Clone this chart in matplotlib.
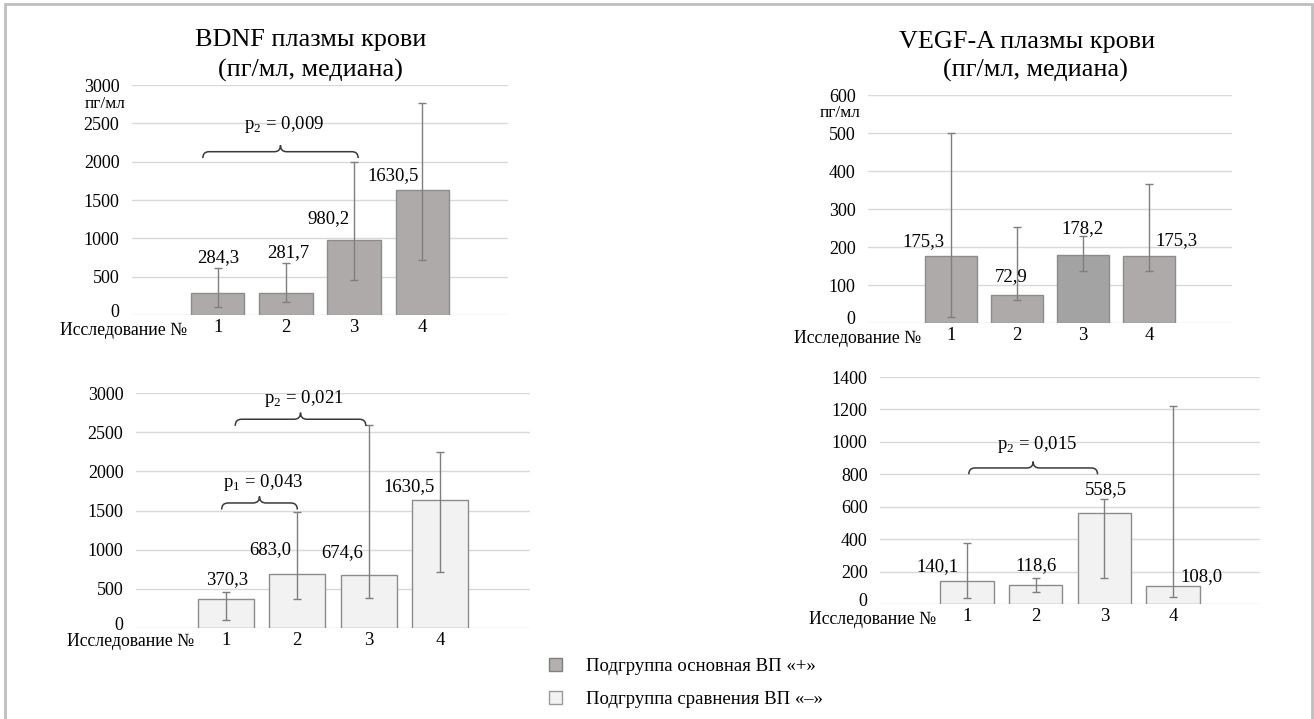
import numpy as np
import matplotlib
matplotlib.use("Agg")
import matplotlib.pyplot as plt
import matplotlib.transforms as mtransforms
from matplotlib.path import Path
from matplotlib.patches import PathPatch, Patch, Rectangle

plt.rcParams["font.family"] = ["Liberation Serif", "DejaVu Serif"]
plt.rcParams["mathtext.fontset"] = "custom"
plt.rcParams["mathtext.rm"] = "Liberation Serif"

# ── data ────────────────────────────────────────────────────────────────────
studies = ["1", "2", "3", "4"]

# BDNF, subgroup VP "+"
bdnf_pos = [284.3, 281.7, 980.2, 1630.5]
bdnf_pos_lo = [105, 172, 458, 718]
bdnf_pos_hi = [618, 676, 2000, 2760]

# VEGF-A, subgroup VP "+"
vegf_pos = [175.3, 72.9, 178.2, 175.3]
vegf_pos_lo = [16, 60, 138, 136]
vegf_pos_hi = [500, 252, 228, 365]

# BDNF, subgroup VP "-"
bdnf_neg = [370.3, 683.0, 674.6, 1630.5]
bdnf_neg_lo = [102, 366, 387, 711]
bdnf_neg_hi = [464, 1485, 2595, 2250]

# VEGF-A, subgroup VP "-"
vegf_neg = [140.1, 118.6, 558.5, 108.0]
vegf_neg_lo = [35, 76, 158, 45]
vegf_neg_hi = [374, 162, 646, 1223]

# significance brackets: (first study, last study, p label)
bdnf_pos_sig = [(1, 3, r"p$_\mathregular{2}$ = 0,009")]
bdnf_neg_sig = [(1, 2, r"p$_\mathregular{1}$ = 0,043"), (1, 3, r"p$_\mathregular{2}$ = 0,021")]
vegf_neg_sig = [(1, 3, r"p$_\mathregular{2}$ = 0,015")]

# ── styles ──────────────────────────────────────────────────────────────────
W, H = 1314, 719
DARK = "#aeaaaa"
DARK3 = "#a3a3a3"
LIGHT = "#f2f2f2"
GRID = "#d9d9d9"
ERR = "#7f7f7f"


def px_axes(fig, left, top, right, bottom):
    return fig.add_axes([left / W, 1 - bottom / H, (right - left) / W, (bottom - top) / H])


def brace(ax, x1, x2, y, rise, r=0.09):
    xm = (x1 + x2) / 2
    verts = [(x1, y - rise), (x1, y), (x1 + r, y),
             (xm - r, y), (xm, y), (xm, y + rise),
             (xm, y), (xm + r, y),
             (x2 - r, y), (x2, y), (x2, y - rise)]
    codes = [Path.MOVETO, Path.CURVE3, Path.CURVE3,
             Path.LINETO, Path.CURVE3, Path.CURVE3,
             Path.CURVE3, Path.CURVE3,
             Path.LINETO, Path.CURVE3, Path.CURVE3]
    ax.add_patch(PathPatch(Path(verts, codes), fill=False, ec="#3a3a3a", lw=1.1,
                           clip_on=False, zorder=5))


def panel(ax, vals, lo, hi, ymax, ystep, colors, label_off, sigs=(), sig_pos=(),
          label_pad=0.05):
    x = np.arange(1, len(vals) + 1)
    vals = np.array(vals)
    yerr = [vals - np.array(lo), np.array(hi) - vals]
    ax.bar(x, vals, width=0.78, color=colors, edgecolor="#8c8c8c", linewidth=1.0, zorder=2)
    ax.errorbar(x, vals, yerr=yerr, fmt="none", ecolor=ERR, elinewidth=1.0,
                capsize=3.2, capthick=1.0, zorder=3)
    for xi, v, (dx, dy) in zip(x, vals, label_off):
        ax.annotate(f"{v:.1f}".replace(".", ","), (xi, v), xytext=(dx, dy),
                    textcoords="offset pixels", ha="center", va="center",
                    fontsize=13.5, zorder=6)
    ax.set_xlim(-0.26, 5.26)
    ax.set_ylim(0, ymax)
    ax.set_yticks(np.arange(0, ymax + 1, ystep))
    ax.set_xticks(x)
    ax.set_xticklabels(studies)
    ax.tick_params(axis="both", length=0, labelsize=13)
    ax.tick_params(axis="y", pad=9)
    ax.tick_params(axis="x", pad=3, labelsize=13.5)
    ax.grid(axis="y", color=GRID, lw=1.0, zorder=0)
    for s in ax.spines.values():
        s.set_visible(False)
    # lift the "0" label a little so it sits clear of the category caption
    zero = ax.get_yticklabels()[0]
    zero.set_transform(zero.get_transform() +
                       mtransforms.ScaledTranslation(0, 5 / 100, ax.figure.dpi_scale_trans))
    ax.text(0.55, -label_pad, "Исследование №", transform=ax.get_xaxis_transform(),
            ha="right", va="center", fontsize=12.8)
    rise = ymax * 0.028
    for (a, b, txt), (xa, xb, yb, yt) in zip(sigs, sig_pos):
        brace(ax, xa, xb, yb, rise)
        ax.text((xa + xb) / 2 + 0.05, yt, txt, ha="center", va="center", fontsize=13.5)


fig = plt.figure(figsize=(W / 100, H / 100), dpi=100)

# outer frame
fig.add_artist(Rectangle((5 / W, -0.01), (1307 / W), 1.0 - 4 / H + 0.01,
                         transform=fig.transFigure, fill=False, ec="#bfbfbf", lw=2))

ax_tl = px_axes(fig, 132, 85, 508, 315)
ax_tr = px_axes(fig, 868, 95, 1232, 323)
ax_bl = px_axes(fig, 136, 393, 530, 628)
ax_br = px_axes(fig, 880, 377, 1260, 604)

panel(ax_tl, bdnf_pos, bdnf_pos_lo, bdnf_pos_hi, 3000, 500, [DARK] * 4,
      [(0, 36), (2, 41), (-26, 21), (-29, 14)],
      bdnf_pos_sig, [(0.78, 3.06, 2130, 2480)], label_pad=0.068)
panel(ax_tr, vegf_pos, vegf_pos_lo, vegf_pos_hi, 600, 100, [DARK, DARK, DARK3, DARK],
      [(-28, 15), (-6, 19), (-1, 27), (28, 16)], label_pad=0.066)
panel(ax_bl, bdnf_neg, bdnf_neg_lo, bdnf_neg_hi, 3000, 500, [LIGHT] * 4,
      [(1, 19), (-27, 25), (-27, 23), (-31, 14)],
      bdnf_neg_sig, [(0.94, 2.0, 1596, 1852), (1.13, 2.96, 2665, 2925)], label_pad=0.058)
panel(ax_br, vegf_neg, vegf_neg_lo, vegf_neg_hi, 1400, 200, [LIGHT] * 4,
      [(-29, 15), (0, 19), (2, 24), (28, 10)],
      vegf_neg_sig, [(1.03, 2.9, 839, 981)], label_pad=0.07)

# titles and units
fig.text(311 / W, 1 - 40 / H, "BDNF плазмы крови", ha="center", va="center", fontsize=18.8)
fig.text(310 / W, 1 - 70 / H, "(пг/мл, медиана)", ha="center", va="center", fontsize=18.8)
fig.text(1027 / W, 1 - 42 / H, "VEGF-A плазмы крови", ha="center", va="center", fontsize=18.8)
fig.text(1035 / W, 1 - 70 / H, "(пг/мл, медиана)", ha="center", va="center", fontsize=18.8)
fig.text(105 / W, 1 - 104 / H, "пг/мл", ha="center", va="center", fontsize=12.5)
fig.text(840 / W, 1 - 113 / H, "пг/мл", ha="center", va="center", fontsize=12.5)

handles = [Patch(facecolor="#b4b0b0", edgecolor="#7f7f7f", lw=1.0),
           Patch(facecolor=LIGHT, edgecolor="#9a9a9a", lw=1.0)]
fig.legend(handles, ["Подгруппа основная ВП «+»", "Подгруппа сравнения ВП «–»"],
           loc="upper left", bbox_to_anchor=(549 / W, 1 - 658 / H), frameon=False,
           fontsize=13.5, handlelength=0.7, handleheight=0.7, handletextpad=1.3,
           labelspacing=0.85, borderaxespad=0, borderpad=0)

fig.savefig("out.png", dpi=100)
